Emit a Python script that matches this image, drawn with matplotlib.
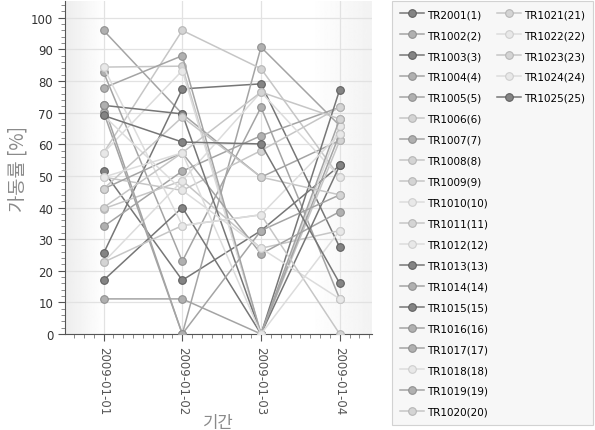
import numpy as np
import matplotlib
matplotlib.use("Agg")
import matplotlib.pyplot as plt
from matplotlib.lines import Line2D
from matplotlib.ticker import MultipleLocator

plt.rcParams['font.family'] = ['DejaVu Sans', 'Noto Sans CJK KR']

dates = ['2009-01-01', '2009-01-02', '2009-01-03', '2009-01-04']
names = ['TR2001(1)', 'TR1002(2)', 'TR1003(3)', 'TR1004(4)', 'TR1005(5)',
         'TR1006(6)', 'TR1007(7)', 'TR1008(8)', 'TR1009(9)', 'TR1010(10)',
         'TR1011(11)', 'TR1012(12)', 'TR1013(13)', 'TR1014(14)', 'TR1015(15)',
         'TR1016(16)', 'TR1017(17)', 'TR1018(18)', 'TR1019(19)', 'TR1020(20)',
         'TR1021(21)', 'TR1022(22)', 'TR1023(23)', 'TR1024(24)', 'TR1025(25)']

# utilisation per day, one row per machine
values = [
    [51.5, 17.0, 32.7, 53.3],
    [96.0, 69.6, 49.6, 61.2],
    [25.5, 77.5, 79.1, 27.4],
    [82.8, 23.0, 71.7, 11.1],
    [70.2, 0.0, 90.7, 65.9],
    [57.3, 96.0, 83.9, 49.6],
    [34.0, 51.5, 62.7, 71.7],
    [84.4, 84.7, 0.0, 61.2],
    [49.6, 45.4, 58.0, 71.7],
    [57.3, 83.3, 0.0, 65.9],
    [39.6, 48.5, 27.1, 32.7],
    [22.7, 48.5, 76.5, 49.6],
    [17.0, 40.0, 0.0, 77.3],
    [45.9, 57.3, 25.3, 38.7],
    [72.3, 69.6, 0.0, 53.3],
    [77.8, 88.0, 0.0, 63.3],
    [72.3, 0.0, 32.7, 44.0],
    [69.1, 45.4, 27.1, 11.1],
    [11.1, 11.1, 0.0, 68.0],
    [45.9, 68.6, 49.6, 44.0],
    [22.7, 34.3, 37.7, 0.0],
    [84.4, 34.3, 37.7, 63.3],
    [40.0, 57.3, 76.5, 68.0],
    [49.6, 57.3, 0.0, 32.7],
    [69.1, 60.7, 60.1, 16.0],
]
# 0 dark, 1 medium, 2 light, 3 very light
shade = [0, 1, 0, 1, 1, 2, 1, 2, 2, 3, 2, 3, 0, 1, 0, 1, 1, 3, 1, 2, 2, 3, 2, 3, 0]

line_c = ['#767676', '#a4a4a4', '#c6c6c6', '#dcdcdc']
face_c = ['#848484', '#b0b0b0', '#d4d4d4', '#e8e8e8']
edge_c = ['#606060', '#909090', '#b6b6b6', '#cecece']

fig = plt.figure(figsize=(5.95, 4.31), dpi=100)
ax = fig.add_axes([65 / 595, 1 - 335 / 431, 307 / 595, 333 / 431])

# soft background gradient
grad = np.concatenate([np.linspace(0.93, 1.0, 40), np.ones(200), np.linspace(1.0, 0.95, 60)])
ax.imshow(grad[None, :], cmap='gray', vmin=0, vmax=1, aspect='auto',
          extent=[0, 1, 0, 1], transform=ax.transAxes, zorder=0)

x = np.arange(1, len(dates) + 1)
handles = []
for i in range(len(names)):
    s = shade[i]
    h, = ax.plot(x, values[i], '-o', color=line_c[s], lw=1.1, ms=5.5,
                 mfc=face_c[s], mec=edge_c[s], mew=0.8, label=names[i], zorder=3)
    handles.append(h)

ax.set_xlim(0.51, 4.41)
ax.set_ylim(0, 105.3)
ax.set_xticks(x)
ax.set_xticklabels(dates, rotation=270, fontsize=8.5, color='#333333')
ax.xaxis.set_minor_locator(MultipleLocator(0.125))
ax.set_yticks(range(0, 101, 10))
ax.yaxis.set_minor_locator(MultipleLocator(2))
ax.tick_params(axis='y', labelsize=8.5, colors='#555555', labelcolor='#333333')
ax.tick_params(axis='x', colors='#555555')
ax.tick_params(which='major', length=5)
ax.tick_params(which='minor', length=3, colors='#777777')
ax.grid(True, color='#e2e2e2', lw=0.9, zorder=1)
for side in ['top', 'right']:
    ax.spines[side].set_visible(False)
for side in ['left', 'bottom']:
    ax.spines[side].set_color('#555555')

ax.set_ylabel('가동률 [%]', family=['Noto Sans CJK KR', 'DejaVu Sans'], fontsize=13.5, color='#8a8a8a', labelpad=2)
ax.set_xlabel('기간', family=['Noto Sans CJK KR', 'DejaVu Sans'], fontsize=12, color='#8a8a8a', labelpad=0)

# 20 rows in the first column, 5 in the second
blank = [Line2D([], [], alpha=0) for _ in range(15)]
leg = fig.legend(handles + blank, names + [''] * 15, ncol=2, loc='upper left',
                 bbox_to_anchor=(392 / 595, 1 - 2 / 431), bbox_transform=fig.transFigure,
                 fontsize=7.5, frameon=True, fancybox=False, handlelength=2.3,
                 handletextpad=0.3, columnspacing=0.8, labelspacing=1.05,
                 borderpad=0.78, borderaxespad=0)
leg.get_frame().set_facecolor('#f5f5f5')
leg.get_frame().set_edgecolor('#c8c8c8')
leg.get_frame().set_linewidth(0.8)

fig.savefig('out.png', dpi=100)
